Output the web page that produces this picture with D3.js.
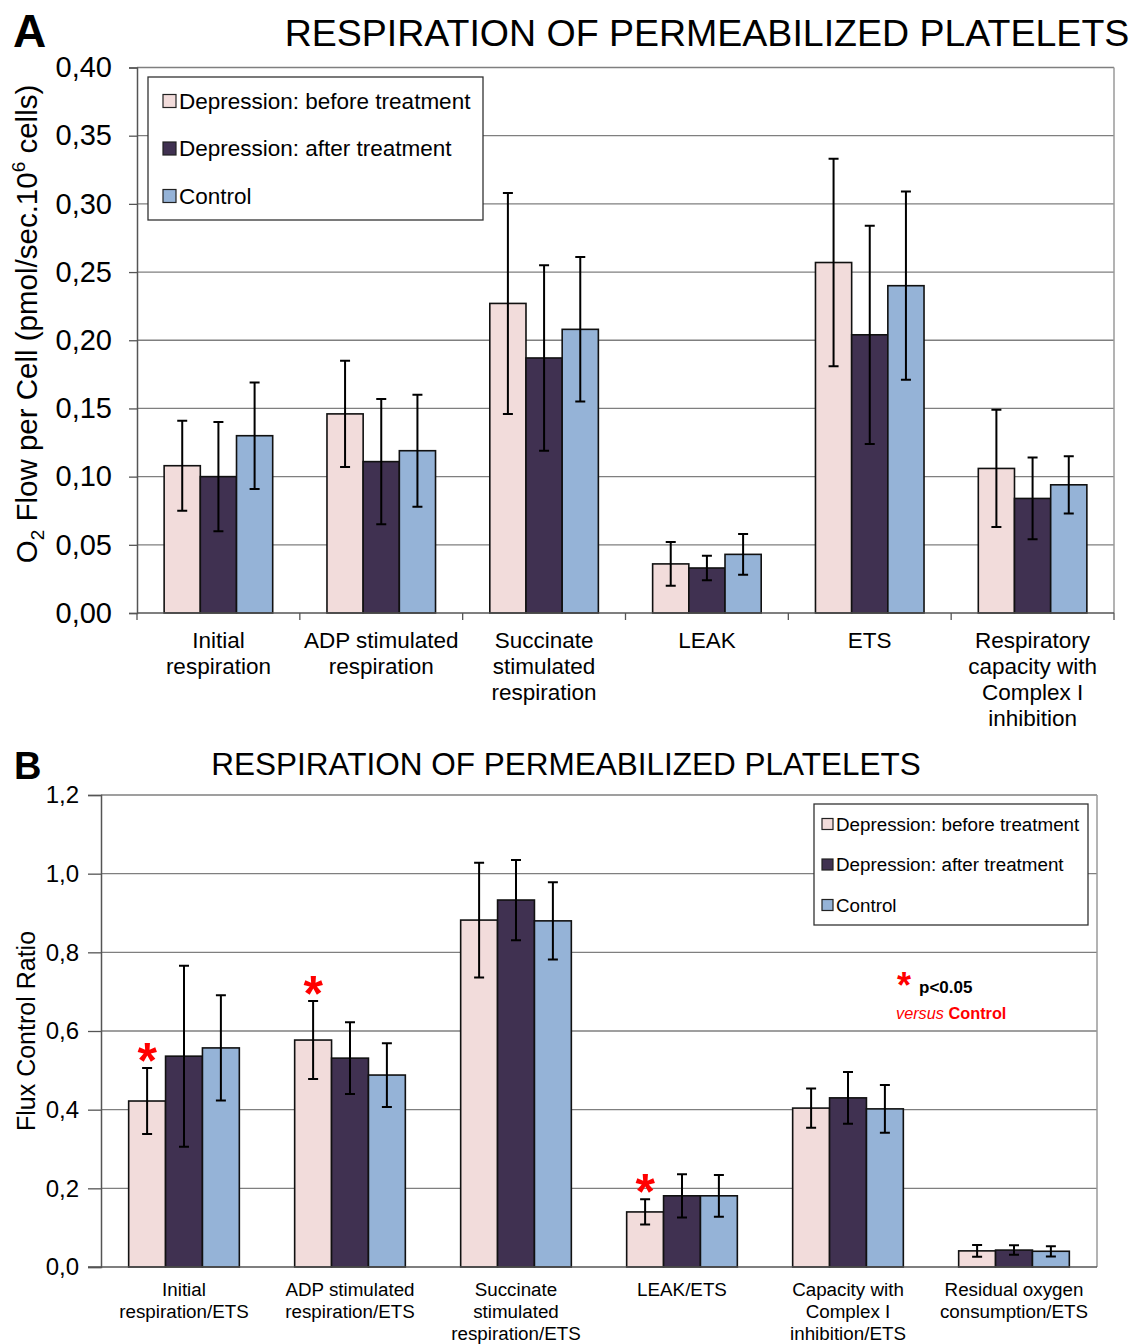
<!DOCTYPE html>
<html lang="en">
<head>
<meta charset="UTF-8">
<title>Respiration of permeabilized platelets</title>
<script src="https://cdn.jsdelivr.net/npm/d3@7/dist/d3.min.js"></script>
<style>
  body { margin: 0; background: #fff; font-family: "Liberation Sans", Arial, sans-serif; }
  svg text { font-family: "Liberation Sans", Arial, sans-serif; fill: #000; }
</style>
</head>
<body>
<div id="chart"></div>
<script>
// series (same for both panels)
const seriesNames = ["Depression: before treatment", "Depression: after treatment", "Control"];
const seriesColors = ["#F2DCDB", "#403151", "#95B3D7"];

// panel A - O2 flow per cell
const catsA = [
  ["Initial", "respiration"],
  ["ADP stimulated", "respiration"],
  ["Succinate", "stimulated", "respiration"],
  ["LEAK"],
  ["ETS"],
  ["Respiratory", "capacity with", "Complex I", "inhibition"]
];
const beforeA = [0.108, 0.146, 0.227, 0.036, 0.257, 0.106];
const afterA  = [0.100, 0.111, 0.187, 0.033, 0.204, 0.084];
const controlA = [0.130, 0.119, 0.208, 0.043, 0.240, 0.094];
const beforeErrA = [0.033, 0.039, 0.081, 0.016, 0.076, 0.043];
const afterErrA  = [0.040, 0.046, 0.068, 0.009, 0.080, 0.030];
const controlErrA = [0.039, 0.041, 0.053, 0.015, 0.069, 0.021];
const ticksA = [0, 0.05, 0.10, 0.15, 0.20, 0.25, 0.30, 0.35, 0.40];

// panel B - flux control ratios
const catsB = [
  ["Initial", "respiration/ETS"],
  ["ADP stimulated", "respiration/ETS"],
  ["Succinate", "stimulated", "respiration/ETS"],
  ["LEAK/ETS"],
  ["Capacity with", "Complex I", "inhibition/ETS"],
  ["Residual oxygen", "consumption/ETS"]
];
const beforeB = [0.422, 0.577, 0.882, 0.140, 0.404, 0.041];
const afterB  = [0.536, 0.531, 0.933, 0.181, 0.430, 0.043];
const controlB = [0.557, 0.488, 0.880, 0.181, 0.402, 0.040];
const beforeErrB = [0.084, 0.099, 0.146, 0.032, 0.050, 0.015];
const afterErrB  = [0.230, 0.091, 0.102, 0.055, 0.066, 0.012];
const controlErrB = [0.134, 0.081, 0.098, 0.053, 0.061, 0.013];
const ticksB = [0, 0.2, 0.4, 0.6, 0.8, 1.0, 1.2];
const signifB = [true, true, false, true, false, false]; // before vs control p<0.05

const svg = d3.select("#chart").append("svg")
  .attr("width", 1134).attr("height", 1344);

function drawPanel(opt) {
  const g = svg.append("g");
  const x0 = d3.scaleBand()
    .domain(d3.range(opt.cats.length))
    .range([opt.left, opt.right])
    .paddingInner(1 / 3).paddingOuter(1 / 6);
  const x1 = d3.scaleBand().domain(d3.range(3)).range([0, x0.bandwidth()]);
  const y = d3.scaleLinear().domain([0, opt.max]).range([opt.bottom, opt.top]);

  // gridlines
  g.selectAll(".grid").data(opt.ticks.slice(1)).enter().append("line")
    .attr("x1", opt.left).attr("x2", opt.right)
    .attr("y1", d => y(d)).attr("y2", d => y(d))
    .attr("stroke", "#7f7f7f").attr("stroke-width", 1.3);
  // right border
  g.append("line").attr("x1", opt.right).attr("x2", opt.right)
    .attr("y1", opt.top).attr("y2", opt.bottom)
    .attr("stroke", "#9a9a9a").attr("stroke-width", 1.5);

  // y axis
  const yAxis = d3.axisLeft(y).tickValues(opt.ticks)
    .tickSize(opt.tickLen).tickPadding(opt.tickPad)
    .tickFormat(d => d3.format(opt.fmt)(d).replace(".", ","));
  const ya = g.append("g").attr("transform", `translate(${opt.left},0)`).call(yAxis);
  ya.select(".domain").attr("stroke", "#555").attr("stroke-width", 1.5);
  ya.selectAll(".tick line").attr("stroke", "#555").attr("stroke-width", 1.3);
  ya.selectAll("text").attr("font-size", opt.tickFont).attr("fill", "#000")
    .attr("font-family", "Liberation Sans, Arial, sans-serif");

  // bars
  const rows = opt.cats.map((c, i) => opt.values.map((s, k) => ({
    i, k, v: s[i], e: opt.errs[k][i]
  })));
  const grp = g.selectAll(".grp").data(rows).enter().append("g")
    .attr("transform", (d, i) => `translate(${x0(i)},0)`);
  grp.selectAll("rect").data(d => d).enter().append("rect")
    .attr("x", d => x1(d.k)).attr("width", x1.bandwidth())
    .attr("y", d => y(d.v)).attr("height", d => y(0) - y(d.v))
    .attr("fill", d => seriesColors[d.k])
    .attr("stroke", "#111").attr("stroke-width", 1.6);

  // error bars
  const cap = 5;
  grp.selectAll(".err").data(d => d).enter().append("path")
    .attr("d", d => {
      const cx = x1(d.k) + x1.bandwidth() / 2;
      const t = y(d.v + d.e), b = y(d.v - d.e);
      return `M${cx},${t}V${b}M${cx - cap},${t}H${cx + cap}M${cx - cap},${b}H${cx + cap}`;
    })
    .attr("stroke", "#000").attr("stroke-width", 2).attr("fill", "none");

  // x axis line
  g.append("line").attr("x1", opt.left - (opt.xTicks ? 0 : opt.tickLen)).attr("x2", opt.right)
    .attr("y1", opt.bottom).attr("y2", opt.bottom)
    .attr("stroke", "#555").attr("stroke-width", 1.5);
  if (opt.xTicks) {
    const bounds = d3.range(opt.cats.length + 1).map(i => opt.left + i * x0.step());
    g.selectAll(".xt").data(bounds).enter().append("line")
      .attr("x1", d => d).attr("x2", d => d)
      .attr("y1", opt.bottom).attr("y2", opt.bottom + 7)
      .attr("stroke", "#555").attr("stroke-width", 1.3);
  }

  // category labels
  g.selectAll(".cat").data(opt.cats).enter().append("text")
    .attr("text-anchor", "middle").attr("font-size", opt.catFont)
    .each(function(lines, i) {
      const t = d3.select(this);
      lines.forEach((ln, j) => {
        t.append("tspan").attr("x", x0(i) + x0.bandwidth() / 2)
          .attr("y", opt.catY + j * opt.catLH).text(ln);
      });
    });

  // legend
  const lg = g.append("g");
  lg.append("rect").attr("x", opt.leg.x).attr("y", opt.leg.y)
    .attr("width", opt.leg.w).attr("height", opt.leg.h)
    .attr("fill", "#fff").attr("stroke", "#333").attr("stroke-width", 1.3);
  seriesNames.forEach((name, k) => {
    const cy = opt.leg.y + opt.leg.first + k * opt.leg.gap;
    lg.append("rect").attr("x", opt.leg.x + opt.leg.pad).attr("y", cy - opt.leg.sw / 2)
      .attr("width", opt.leg.sw).attr("height", opt.leg.sw)
      .attr("fill", seriesColors[k]).attr("stroke", "#222").attr("stroke-width", 1.2);
    lg.append("text").attr("x", opt.leg.x + opt.leg.pad + opt.leg.sw + 3).attr("y", cy)
      .attr("dy", "0.35em").attr("font-size", opt.leg.font).text(name);
  });

  return { x0, x1, y, g };
}

// ---- panel A ----
const pA = drawPanel({
  cats: catsA, values: [beforeA, afterA, controlA],
  errs: [beforeErrA, afterErrA, controlErrA],
  ticks: ticksA, max: 0.40, fmt: ".2f",
  left: 137, right: 1114, top: 67.5, bottom: 613,
  tickLen: 8, tickPad: 17, tickFont: 29, xTicks: true,
  catFont: 22.5, catY: 648, catLH: 26,
  leg: { x: 148, y: 77, w: 335, h: 143, first: 24, gap: 47.5, pad: 15, sw: 13, font: 22.5 }
});

svg.append("text").attr("x", 13).attr("y", 47).attr("font-size", 46)
  .attr("font-weight", "bold").text("A");
svg.append("text").attr("x", 707).attr("y", 46).attr("text-anchor", "middle")
  .attr("font-size", 37.5).text("RESPIRATION OF PERMEABILIZED PLATELETS");

const ylA = svg.append("text")
  .attr("transform", "translate(37,324) rotate(-90)")
  .attr("text-anchor", "middle").attr("font-size", 29.5);
ylA.append("tspan").text("O");
ylA.append("tspan").attr("font-size", 19).attr("dy", 7).text("2");
ylA.append("tspan").attr("dy", -7).text(" Flow per Cell (pmol/sec.10");
ylA.append("tspan").attr("font-size", 19).attr("dy", -12).text("6");
ylA.append("tspan").attr("dy", 12).text("  cells)");

// ---- panel B ----
const pB = drawPanel({
  cats: catsB, values: [beforeB, afterB, controlB],
  errs: [beforeErrB, afterErrB, controlErrB],
  ticks: ticksB, max: 1.2, fmt: ".1f",
  left: 101, right: 1097, top: 795, bottom: 1267,
  tickLen: 13, tickPad: 9, tickFont: 24, xTicks: false,
  catFont: 18.8, catY: 1296, catLH: 22,
  leg: { x: 814, y: 804, w: 274, h: 121, first: 20, gap: 40.5, pad: 8, sw: 11, font: 18.8 }
});

svg.append("text").attr("x", 14).attr("y", 779).attr("font-size", 38)
  .attr("font-weight", "bold").text("B");
svg.append("text").attr("x", 566).attr("y", 775).attr("text-anchor", "middle")
  .attr("font-size", 31.5).text("RESPIRATION OF PERMEABILIZED PLATELETS");

svg.append("text")
  .attr("transform", "translate(35,1031) rotate(-90)")
  .attr("text-anchor", "middle").attr("font-size", 25).text("Flux Control Ratio");

// significance asterisks over "before treatment" bars
const starData = signifB.map((s, i) => ({ s, i })).filter(d => d.s);
svg.selectAll(".star").data(starData).enter().append("text")
  .attr("x", d => pB.x0(d.i) + pB.x1(0) + pB.x1.bandwidth() / 2)
  .attr("y", d => pB.y(beforeB[d.i] + beforeErrB[d.i]) + 10)
  .attr("text-anchor", "middle").attr("font-size", 50).attr("font-weight", "bold")
  .style("fill", "#ff0000").text("*");

// p-value note
svg.append("text").attr("x", 904).attr("y", 998).attr("text-anchor", "middle")
  .attr("font-size", 36).attr("font-weight", "bold").style("fill", "#ff0000").text("*");
svg.append("text").attr("x", 919).attr("y", 993).attr("font-size", 17)
  .attr("font-weight", "bold").text("p<0.05");
const vs = svg.append("text").attr("x", 896).attr("y", 1019).attr("font-size", 16.3)
  .style("fill", "#ff0000");
vs.append("tspan").attr("font-style", "italic").style("fill", "#ff0000").text("versus ");
vs.append("tspan").attr("font-weight", "bold").style("fill", "#ff0000").text("Control");
</script>
</body>
</html>
